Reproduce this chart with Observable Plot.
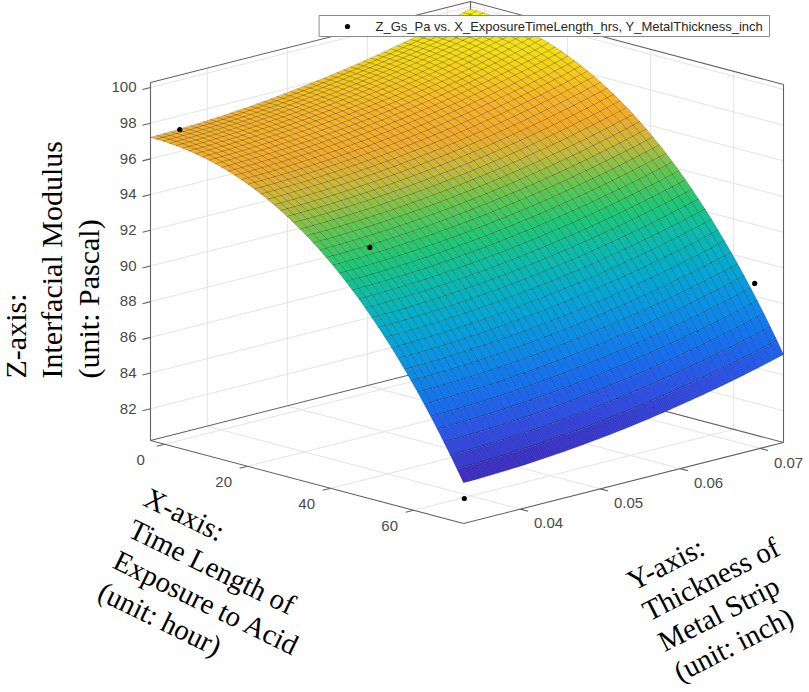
<!DOCTYPE html>
<html><head><meta charset="utf-8">
<script src="https://cdn.jsdelivr.net/npm/d3@7"></script>
<script src="https://cdn.jsdelivr.net/npm/@observablehq/plot@0.6"></script>
<style>body{margin:0;background:#fff}#chart{width:809px;height:692px}</style>
</head><body><div id="chart"></div>
<script>
// ---- data ----
const timeHours = [0, 40, 72, 72];
const thicknessInch = [0.0348, 0.0378, 0.0693, 0.0330];
const modulusPa = [97.64, 93.16, 89.54, 81.61];
const xTicks = [0, 20, 40, 60];
const yTicks = [0.04, 0.05, 0.06, 0.07];
const zTicks = [82, 84, 86, 88, 90, 92, 94, 96, 98, 100];
const xLim = [-3.4, 72];
const yLim = [0.0329, 0.0729];
const zLim = [80.22, 100.28];
// fitted surface: z = c0 + c1*s^2 + c2*s^3 + c3*t + c4*t^2  (s, t = fraction across x and y range)
const fitCoefficients = [97.2, -10.9, -3.8, 0.3, 2.35];
const gridSize = 49;
const legendLabel = "Z_Gs_Pa vs. X_ExposureTimeLength_hrs, Y_MetalThickness_inch";
const zTitle = "Z-axis:\nInterfacial Modulus\n(unit: Pascal)";
const xTitle = "X-axis:\nTime Length of\nExposure to Acid\n(unit: hour)";
const yTitle = "Y-axis:\nThickness of\nMetal Strip\n(unit: inch)";
const colorStops = [0, 0.1, 0.2, 0.3, 0.4, 0.5, 0.58, 0.66, 0.74, 0.8, 0.86, 0.92, 1];
const surfaceColors = ["#3d2fc4","#2f4fe6","#1470f0","#0a90e6","#02aad4","#0cbcaa","#1ec874","#62c650","#c8b83a","#f2aa2a","#f7b428","#f6d214","#f5f20e"];

// ---- axes box placement (3-D view) ----
const box = {ox: 150, oy: 440, ex: [313, 83], ey: [320, -81], ez: [0, -358]};
const norm = (v, lim) => (v - lim[0]) / (lim[1] - lim[0]);
function P(x, y, z) {
  const s = norm(x, xLim), t = norm(y, yLim), w = norm(z, zLim);
  return [box.ox + s * box.ex[0] + t * box.ey[0] + w * box.ez[0],
          box.oy + s * box.ex[1] + t * box.ey[1] + w * box.ez[1]];
}
const fitZ = (x, y) => {
  const s = norm(x, xLim), t = norm(y, yLim), c = fitCoefficients;
  return c[0] + c[1] * s * s + c[2] * s * s * s + c[3] * t + c[4] * t * t;
};

// surface cells
const gx = d3.range(gridSize).map(i => xLim[0] + i * (xLim[1] - xLim[0]) / (gridSize - 1));
const gy = d3.range(gridSize).map(i => yLim[0] + i * (yLim[1] - yLim[0]) / (gridSize - 1));
const cells = [];
for (let i = 0; i < gridSize - 1; i++) for (let j = 0; j < gridSize - 1; j++) {
  const corners = [[gx[i], gy[j]], [gx[i + 1], gy[j]], [gx[i + 1], gy[j + 1]], [gx[i], gy[j + 1]]];
  const ring = corners.map(([x, y]) => P(x, y, fitZ(x, y)));
  ring.push(ring[0]);
  const xc = (gx[i] + gx[i + 1]) / 2, yc = (gy[j] + gy[j + 1]) / 2;
  cells.push({type: "Feature",
    properties: {z: fitZ(gx[i], gy[j]), depth: norm(xc, xLim) - 0.978 * norm(yc, yLim)},
    geometry: {type: "Polygon", coordinates: [ring]}});
}
cells.sort((a, b) => a.properties.depth - b.properties.depth);
const zExt = d3.extent(cells, d => d.properties.z);
const colorDomain = colorStops.map(t => zExt[0] + t * (zExt[1] - zExt[0]));

const yr = yLim[1] - yLim[0], xr = xLim[1] - xLim[0];
const [x0, x1] = xLim, [y0, y1] = yLim, [z0, z1] = zLim;
// grid lines on back walls and floor
const gridSegs = [];
for (const xt of xTicks) {
  gridSegs.push([P(xt, y0, z0), P(xt, y1, z0)]);
  gridSegs.push([P(xt, y1, z0), P(xt, y1, z1)]);
}
for (const yt of yTicks) {
  gridSegs.push([P(x0, yt, z0), P(x1, yt, z0)]);
  gridSegs.push([P(x0, yt, z0), P(x0, yt, z1)]);
}
for (const zt of zTicks) {
  gridSegs.push([P(x0, y0, zt), P(x0, y1, zt)]);
  gridSegs.push([P(x0, y1, zt), P(x1, y1, zt)]);
}
// box edges (back style)
const boxSegs = [
  [P(x0,y0,z0), P(x1,y0,z0)], [P(x1,y0,z0), P(x1,y1,z0)], [P(x1,y1,z0), P(x0,y1,z0)], [P(x0,y1,z0), P(x0,y0,z0)],
  [P(x0,y0,z0), P(x0,y0,z1)], [P(x0,y1,z0), P(x0,y1,z1)], [P(x1,y1,z0), P(x1,y1,z1)],
  [P(x0,y0,z1), P(x0,y1,z1)], [P(x0,y1,z1), P(x1,y1,z1)]
];
// tick marks
const tickSegs = [
  ...zTicks.map(zt => [P(x0, y0, zt), P(x0, y0 - 0.025 * yr, zt)]),
  ...xTicks.map(xt => [P(xt, y0, z0), P(xt, y0 - 0.025 * yr, z0)]),
  ...yTicks.map(yt => [P(x1, yt, z0), P(x1 + 0.025 * xr, yt, z0)])
];
const zLabels = zTicks.map(v => ({p: P(x0, y0, v), t: String(v)}));
const xLabels = xTicks.map(v => ({p: P(v, y0 - 0.075 * yr, z0), t: String(v)}));
const yLabels = yTicks.map(v => ({p: P(x1 + 0.09 * xr, v, z0), t: v.toFixed(2)}));
const points = timeHours.map((x, i) => P(x, thicknessInch[i], modulusPa[i]));

const link = (data, o) => Plot.link(data, {x1: d => d[0][0], y1: d => d[0][1], x2: d => d[1][0], y2: d => d[1][1], ...o});
const legendBox = {type: "Feature", properties: {}, geometry: {type: "Polygon",
  coordinates: [[[319, 15], [769, 15], [769, 36], [319, 36], [319, 15]]]}};
const tickFont = "Liberation Sans, Arial, sans-serif";
const titleFont = "Liberation Serif, Times New Roman, serif";

const chart = Plot.plot({
  width: 809, height: 692, margin: 0,
  projection: {type: "identity"},
  style: {background: "#fff", fontFamily: tickFont},
  color: {type: "linear", domain: colorDomain, range: surfaceColors, interpolate: "rgb"},
  marks: [
    link(gridSegs, {stroke: "#e3e3e3", strokeWidth: 1}),
    link(boxSegs, {stroke: "#626262", strokeWidth: 1.1}),
    link(tickSegs, {stroke: "#626262", strokeWidth: 1.1}),
    Plot.geo(cells, {fill: d => d.properties.z, stroke: "#000", strokeOpacity: 0.33, strokeWidth: 0.6}),
    Plot.dot(points, {x: d => d[0], y: d => d[1], r: 2.6, fill: "#000", stroke: null}),
    Plot.text(zLabels, {x: d => d.p[0], y: d => d.p[1], text: "t", dx: -14, textAnchor: "end", fontSize: 15, fill: "#4a4a4a"}),
    Plot.text(xLabels, {x: d => d.p[0], y: d => d.p[1], text: "t", dy: 10, fontSize: 15, fill: "#4a4a4a"}),
    Plot.text(yLabels, {x: d => d.p[0], y: d => d.p[1], text: "t", dy: 7, fontSize: 15, fill: "#4a4a4a"}),
    Plot.text([zTitle], {x: () => 50, y: () => 378, text: d => d, rotate: -90, textAnchor: "start", lineAnchor: "middle", lineHeight: 1.22, fontSize: 30, fontFamily: titleFont, fill: "#000"}),
    Plot.text([xTitle], {x: () => 152, y: () => 482, text: d => d, rotate: 26, textAnchor: "start", lineAnchor: "top", lineHeight: 1.2, fontSize: 29, fontFamily: titleFont, fill: "#000"}),
    Plot.text([yTitle], {x: () => 622, y: () => 569, text: d => d, rotate: -27, textAnchor: "start", lineAnchor: "top", lineHeight: 1.18, fontSize: 29, fontFamily: titleFont, fill: "#000"}),
    Plot.geo(legendBox, {fill: "#fff", stroke: "#8a8a8a", strokeWidth: 1}),
    Plot.dot([legendLabel], {x: () => 347, y: () => 26, r: 2.6, fill: "#000", stroke: null}),
    Plot.text([legendLabel], {x: () => 375, y: () => 26, text: d => d, textAnchor: "start", fontSize: 13, fill: "#262626"})
  ]
});
document.getElementById("chart").append(chart);
</script></body></html>
